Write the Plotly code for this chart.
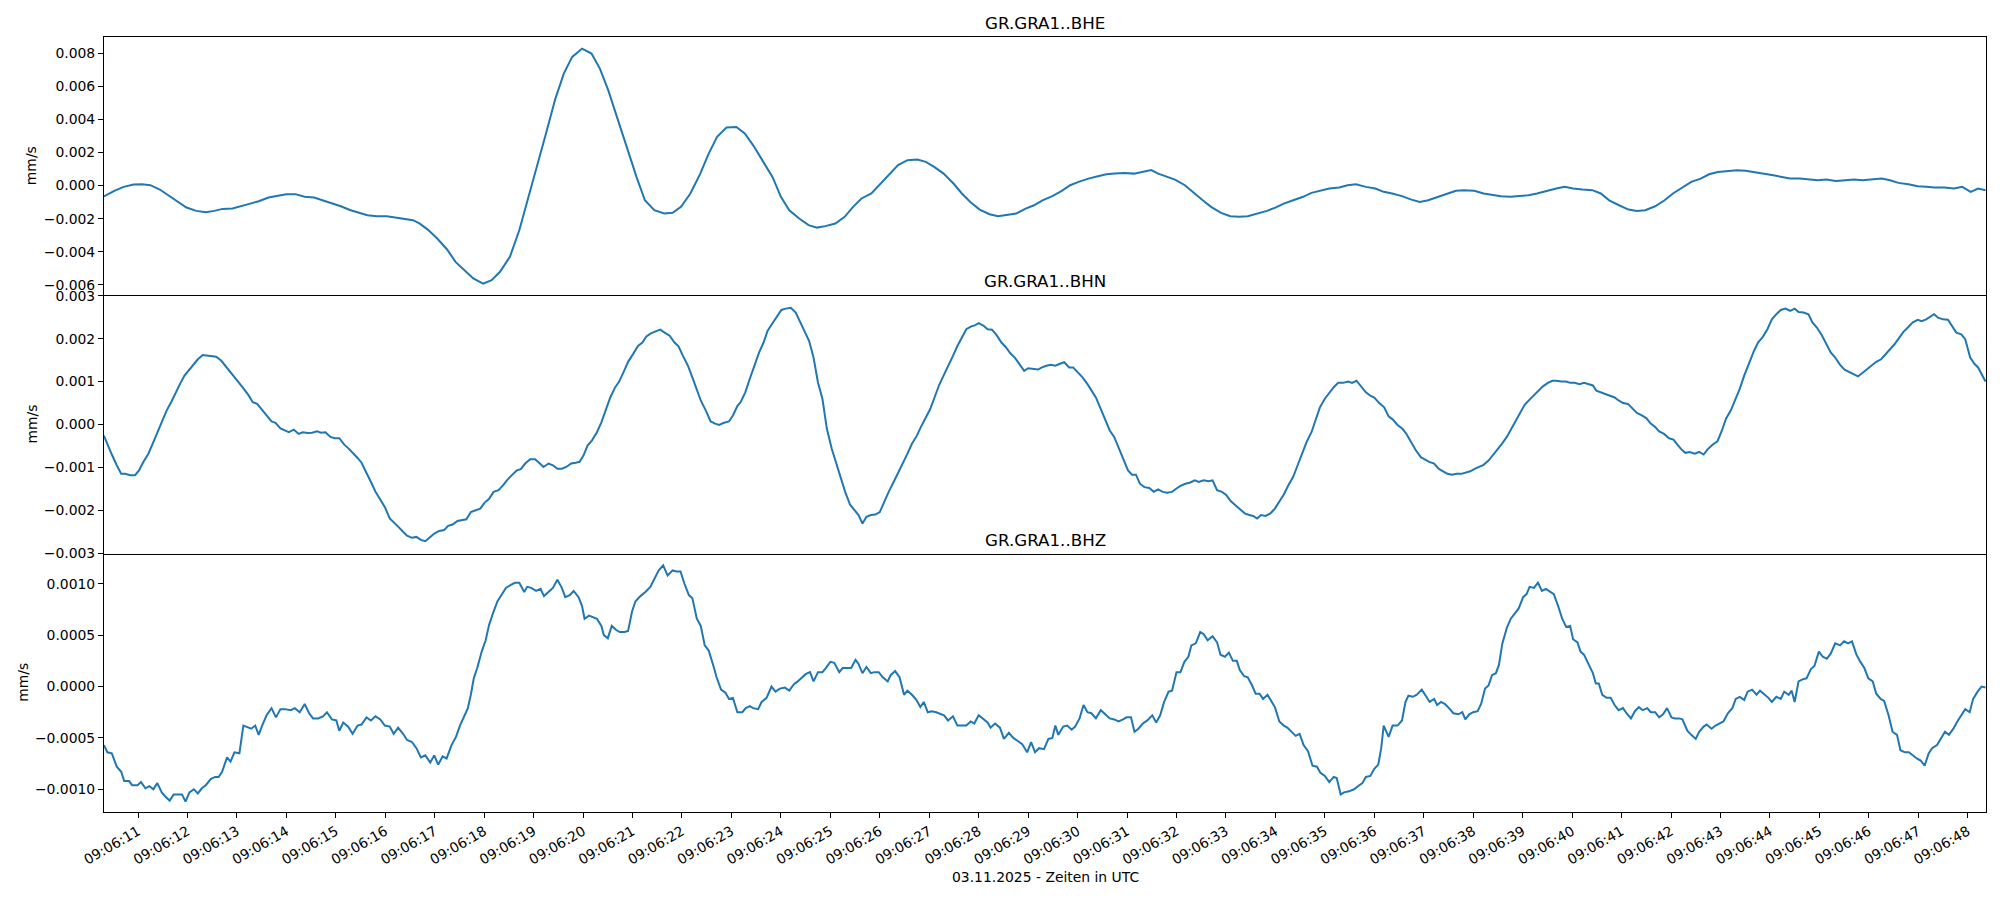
import pandas as pd
import plotly.graph_objects as go
from plotly.subplots import make_subplots

# ---------------- data (seconds after 09:06:00 UTC, velocity in µm/s) ----------------
bhe_t = [
    10.31,10.52,10.71,10.91,11.08,11.25,11.44,11.64,11.81,11.98,
    12.18,12.37,12.54,12.71,12.91,13.10,13.27,13.44,13.64,13.83,
    14.00,14.18,14.37,14.56,14.74,14.91,15.10,15.30,15.47,15.64,
    15.83,16.03,16.20,16.37,16.56,16.69,16.86,17.05,17.25,17.42,
    17.59,17.78,17.98,18.15,18.32,18.52,18.71,18.88,19.05,19.25,
    19.44,19.61,19.78,19.98,20.17,20.34,20.51,20.71,20.90,21.08,
    21.25,21.44,21.64,21.81,21.98,22.17,22.37,22.54,22.71,22.90,
    23.10,23.27,23.44,23.63,23.83,24.00,24.17,24.37,24.56,24.73,
    24.90,25.10,25.29,25.46,25.63,25.83,26.02,26.19,26.37,26.56,
    26.76,26.93,27.10,27.29,27.49,27.66,27.83,28.02,28.22,28.39,
    28.56,28.76,28.95,29.12,29.29,29.49,29.68,29.85,30.02,30.22,
    30.41,30.58,30.75,30.95,31.14,31.31,31.49,31.63,31.80,31.97,
    32.17,32.36,32.53,32.70,32.90,33.09,33.27,33.44,33.63,33.83,
    34.00,34.17,34.36,34.56,34.73,34.90,35.09,35.29,35.46,35.63,
    35.83,36.02,36.19,36.36,36.56,36.75,36.92,37.09,37.29,37.48,
    37.65,37.82,38.02,38.21,38.39,38.56,38.75,38.95,39.12,39.29,
    39.48,39.68,39.85,40.02,40.21,40.41,40.58,40.75,40.95,41.14,
    41.31,41.48,41.68,41.87,42.04,42.21,42.41,42.60,42.77,42.95,
    43.14,43.33,43.51,43.68,43.87,44.07,44.24,44.41,44.60,44.80,
    44.97,45.14,45.33,45.53,45.70,45.87,46.07,46.26,46.43,46.60,
    46.80,46.99,47.16,47.33,47.53,47.72,47.89,48.06,48.21,48.36,
]
bhe_v = [
    -0.66,-0.32,-0.08,0.06,0.08,0.02,-0.24,-0.64,-0.99,-1.33,
    -1.53,-1.61,-1.53,-1.41,-1.39,-1.25,-1.09,-0.95,-0.72,-0.62,
    -0.52,-0.52,-0.68,-0.72,-0.89,-1.09,-1.25,-1.49,-1.65,-1.79,
    -1.85,-1.85,-1.93,-1.99,-2.09,-2.29,-2.66,-3.20,-3.86,-4.61,
    -5.11,-5.61,-5.92,-5.71,-5.21,-4.31,-2.70,-0.89,0.93,3.14,
    5.25,6.76,7.77,8.27,7.97,7.06,5.75,3.94,2.13,0.52,
    -0.89,-1.49,-1.69,-1.65,-1.29,-0.48,0.72,1.93,2.94,3.50,
    3.54,3.14,2.43,1.53,0.52,-0.68,-1.49,-1.99,-2.39,-2.54,
    -2.45,-2.29,-1.89,-1.29,-0.78,-0.48,0.12,0.72,1.23,1.53,
    1.57,1.43,1.13,0.72,0.12,-0.48,-0.99,-1.45,-1.73,-1.85,
    -1.79,-1.69,-1.39,-1.19,-0.89,-0.64,-0.32,0.02,0.22,0.42,
    0.56,0.68,0.72,0.76,0.72,0.82,0.93,0.72,0.56,0.36,
    0.02,-0.48,-0.89,-1.29,-1.65,-1.85,-1.89,-1.85,-1.69,-1.53,
    -1.33,-1.09,-0.89,-0.68,-0.44,-0.32,-0.18,-0.12,0.02,0.08,
    -0.08,-0.18,-0.38,-0.48,-0.64,-0.85,-0.99,-0.89,-0.68,-0.48,
    -0.32,-0.28,-0.32,-0.48,-0.58,-0.64,-0.68,-0.64,-0.58,-0.48,
    -0.32,-0.18,-0.08,-0.18,-0.24,-0.28,-0.48,-0.89,-1.19,-1.45,
    -1.53,-1.49,-1.25,-0.89,-0.48,-0.18,0.22,0.42,0.68,0.82,
    0.89,0.93,0.89,0.82,0.72,0.62,0.52,0.42,0.42,0.36,
    0.32,0.36,0.28,0.32,0.36,0.32,0.36,0.42,0.32,0.16,
    0.08,-0.04,-0.08,-0.12,-0.12,-0.18,-0.08,-0.38,-0.18,-0.28,
]

bhn_t = [
    10.31,10.38,10.47,10.57,10.66,10.74,10.84,10.94,11.02,11.11,
    11.21,11.31,11.39,11.48,11.58,11.67,11.76,11.86,11.94,12.04,
    12.13,12.21,12.31,12.41,12.50,12.58,12.68,12.78,12.86,12.95,
    13.05,13.14,13.23,13.32,13.41,13.51,13.60,13.70,13.78,13.88,
    13.97,14.05,14.15,14.25,14.33,14.43,14.52,14.62,14.70,14.79,
    14.89,14.98,15.07,15.17,15.25,15.35,15.44,15.52,15.62,15.71,
    15.80,15.89,15.99,16.09,16.17,16.26,16.36,16.44,16.54,16.63,
    16.72,16.81,16.91,16.99,17.09,17.19,17.27,17.36,17.46,17.54,
    17.64,17.73,17.83,17.92,18.01,18.10,18.19,18.29,18.38,18.46,
    18.56,18.66,18.74,18.83,18.93,19.03,19.11,19.20,19.30,19.39,
    19.48,19.57,19.66,19.76,19.85,19.93,20.01,20.09,20.18,20.28,
    20.37,20.46,20.55,20.65,20.73,20.83,20.91,21.01,21.11,21.20,
    21.28,21.38,21.48,21.56,21.65,21.75,21.85,21.93,22.02,22.12,
    22.21,22.30,22.38,22.48,22.58,22.67,22.75,22.85,22.95,23.03,
    23.12,23.19,23.28,23.37,23.46,23.56,23.65,23.73,23.83,23.93,
    24.01,24.10,24.20,24.30,24.38,24.47,24.57,24.66,24.75,24.84,
    24.93,25.03,25.12,25.20,25.30,25.40,25.49,25.57,25.65,25.73,
    25.82,25.91,26.00,26.10,26.18,26.28,26.38,26.47,26.56,26.65,
    26.75,26.83,26.92,27.02,27.12,27.20,27.29,27.39,27.48,27.57,
    27.66,27.75,27.84,27.92,28.00,28.10,28.18,28.27,28.37,28.46,
    28.55,28.64,28.73,28.82,28.92,29.00,29.10,29.20,29.28,29.37,
    29.46,29.55,29.63,29.73,29.83,29.91,30.00,30.10,30.20,30.28,
    30.37,30.47,30.56,30.65,30.74,30.83,30.93,31.02,31.10,31.18,
    31.26,31.35,31.45,31.54,31.63,31.72,31.81,31.91,32.00,32.08,
    32.18,32.28,32.37,32.45,32.55,32.65,32.73,32.82,32.92,33.01,
    33.10,33.19,33.28,33.38,33.47,33.55,33.63,33.71,33.80,33.90,
    33.99,34.08,34.17,34.26,34.36,34.45,34.53,34.63,34.73,34.82,
    34.90,35.00,35.10,35.18,35.27,35.37,35.47,35.55,35.64,35.74,
    35.83,35.92,36.00,36.10,36.20,36.29,36.37,36.47,36.57,36.65,
    36.74,36.84,36.94,37.02,37.11,37.21,37.30,37.39,37.48,37.57,
    37.67,37.76,37.84,37.94,38.04,38.13,38.21,38.31,38.41,38.49,
    38.58,38.68,38.77,38.86,38.95,39.04,39.14,39.23,39.31,39.41,
    39.51,39.60,39.68,39.78,39.88,39.96,40.05,40.15,40.24,40.33,
    40.42,40.49,40.58,40.66,40.76,40.86,40.94,41.03,41.13,41.23,
    41.31,41.40,41.50,41.59,41.68,41.76,41.86,41.96,42.05,42.13,
    42.21,42.29,42.38,42.48,42.57,42.66,42.74,42.84,42.94,43.03,
    43.11,43.21,43.31,43.39,43.48,43.58,43.68,43.76,43.85,43.95,
    44.04,44.13,44.22,44.31,44.41,44.50,44.58,44.68,44.78,44.86,
    44.95,45.05,45.15,45.23,45.32,45.42,45.51,45.60,45.69,45.78,
    45.87,45.97,46.05,46.15,46.25,46.34,46.42,46.52,46.62,46.70,
    46.79,46.89,46.99,47.07,47.16,47.26,47.32,47.40,47.50,47.60,
    47.68,47.77,47.87,47.95,48.05,48.14,48.21,48.30,48.36,
]
bhn_v = [
    -0.26,-0.47,-0.70,-0.95,-1.15,-1.15,-1.18,-1.18,-1.07,-0.87,
    -0.68,-0.41,-0.18,0.07,0.33,0.52,0.75,0.97,1.14,1.28,
    1.41,1.52,1.62,1.60,1.59,1.58,1.49,1.35,1.22,1.12,
    0.97,0.83,0.69,0.52,0.48,0.35,0.21,0.07,0.04,-0.09,
    -0.14,-0.18,-0.12,-0.22,-0.18,-0.20,-0.19,-0.16,-0.19,-0.18,
    -0.29,-0.32,-0.32,-0.47,-0.55,-0.66,-0.78,-0.89,-1.11,-1.34,
    -1.56,-1.73,-1.92,-2.19,-2.27,-2.38,-2.50,-2.59,-2.64,-2.62,
    -2.69,-2.72,-2.62,-2.54,-2.48,-2.46,-2.36,-2.33,-2.25,-2.23,
    -2.21,-2.04,-2.00,-1.96,-1.82,-1.73,-1.57,-1.53,-1.42,-1.30,
    -1.18,-1.07,-1.04,-0.91,-0.81,-0.81,-0.89,-0.99,-0.91,-0.95,
    -1.03,-1.03,-0.99,-0.91,-0.89,-0.87,-0.72,-0.49,-0.37,-0.18,
    0.05,0.36,0.63,0.87,1.00,1.25,1.46,1.64,1.83,1.91,
    2.05,2.13,2.18,2.21,2.14,2.07,1.91,1.82,1.60,1.37,
    1.10,0.83,0.56,0.33,0.07,0.02,-0.01,0.04,0.07,0.21,
    0.43,0.53,0.75,1.06,1.37,1.68,1.91,2.18,2.36,2.53,
    2.67,2.70,2.72,2.61,2.41,2.22,1.95,1.56,0.98,0.60,
    -0.10,-0.57,-0.91,-1.22,-1.57,-1.87,-2.00,-2.11,-2.31,-2.15,
    -2.11,-2.10,-2.04,-1.76,-1.57,-1.34,-1.11,-0.91,-0.68,-0.45,
    -0.26,-0.06,0.13,0.36,0.67,0.92,1.14,1.37,1.60,1.83,
    2.03,2.22,2.28,2.31,2.36,2.30,2.22,2.21,2.07,1.91,
    1.80,1.66,1.56,1.41,1.25,1.31,1.29,1.28,1.33,1.37,
    1.39,1.37,1.41,1.45,1.33,1.33,1.22,1.10,0.94,0.79,
    0.63,0.36,0.09,-0.14,-0.29,-0.53,-0.84,-1.07,-1.17,-1.17,
    -1.38,-1.46,-1.48,-1.57,-1.51,-1.57,-1.59,-1.57,-1.49,-1.43,
    -1.38,-1.35,-1.30,-1.34,-1.30,-1.32,-1.30,-1.53,-1.57,-1.65,
    -1.79,-1.88,-1.96,-2.07,-2.11,-2.13,-2.19,-2.11,-2.13,-2.07,
    -1.96,-1.79,-1.63,-1.42,-1.22,-0.95,-0.72,-0.41,-0.18,0.13,
    0.40,0.60,0.75,0.87,0.97,0.97,1.00,0.97,1.02,0.87,
    0.75,0.67,0.63,0.50,0.40,0.19,0.12,-0.01,-0.10,-0.22,
    -0.41,-0.60,-0.76,-0.81,-0.87,-0.91,-1.03,-1.09,-1.15,-1.17,
    -1.15,-1.15,-1.12,-1.09,-1.03,-0.99,-0.94,-0.84,-0.70,-0.60,
    -0.45,-0.29,-0.10,0.09,0.29,0.46,0.58,0.69,0.79,0.89,
    0.97,1.02,1.02,1.00,1.00,0.97,0.97,0.94,0.97,0.94,
    0.91,0.79,0.75,0.71,0.67,0.63,0.56,0.50,0.48,0.36,
    0.27,0.22,0.15,0.02,-0.06,-0.16,-0.22,-0.32,-0.35,-0.47,
    -0.58,-0.66,-0.64,-0.68,-0.64,-0.70,-0.58,-0.47,-0.39,-0.14,
    0.13,0.33,0.60,0.83,1.14,1.45,1.72,1.91,2.03,2.22,
    2.45,2.57,2.67,2.70,2.65,2.70,2.62,2.61,2.57,2.38,
    2.26,2.08,1.87,1.68,1.56,1.39,1.28,1.23,1.18,1.12,
    1.20,1.29,1.37,1.46,1.52,1.64,1.74,1.87,2.03,2.16,
    2.26,2.38,2.44,2.41,2.45,2.52,2.57,2.49,2.45,2.44,
    2.30,2.14,2.10,1.99,1.56,1.41,1.33,1.14,1.00,
]

bhz_t = [
    10.31,10.38,10.47,10.57,10.66,10.72,10.82,10.88,10.99,11.06,
    11.15,11.23,11.31,11.39,11.48,11.55,11.64,11.72,11.82,11.89,
    11.96,12.04,12.13,12.21,12.29,12.37,12.47,12.56,12.63,12.70,
    12.80,12.87,12.95,13.05,13.13,13.19,13.29,13.37,13.44,13.51,
    13.60,13.70,13.79,13.88,13.97,14.09,14.17,14.27,14.37,14.46,
    14.54,14.64,14.74,14.82,14.92,15.01,15.07,15.15,15.25,15.34,
    15.44,15.52,15.62,15.71,15.80,15.90,15.99,16.09,16.17,16.26,
    16.36,16.44,16.54,16.63,16.72,16.81,16.91,16.99,17.07,17.16,
    17.24,17.34,17.43,17.51,17.58,17.67,17.73,17.79,17.86,17.95,
    18.03,18.10,18.19,18.27,18.35,18.44,18.54,18.62,18.71,18.81,
    18.87,18.95,19.05,19.14,19.21,19.30,19.39,19.48,19.57,19.64,
    19.73,19.81,19.91,19.98,20.03,20.12,20.18,20.28,20.37,20.42,
    20.50,20.58,20.67,20.74,20.84,20.91,20.99,21.06,21.16,21.26,
    21.36,21.44,21.53,21.62,21.71,21.81,21.89,21.97,22.05,22.14,
    22.21,22.30,22.38,22.46,22.54,22.63,22.70,22.79,22.88,22.95,
    23.03,23.12,23.22,23.29,23.37,23.44,23.54,23.61,23.71,23.81,
    23.89,23.98,24.08,24.17,24.26,24.34,24.42,24.50,24.59,24.66,
    24.75,24.84,24.91,25.00,25.08,25.18,25.25,25.34,25.42,25.51,
    25.57,25.65,25.73,25.82,25.89,25.98,26.06,26.16,26.22,26.31,
    26.40,26.49,26.56,26.65,26.74,26.82,26.89,26.97,27.05,27.14,
    27.23,27.30,27.38,27.48,27.57,27.65,27.75,27.84,27.91,28.00,
    28.10,28.18,28.24,28.33,28.43,28.51,28.61,28.70,28.79,28.88,
    28.98,29.06,29.14,29.22,29.32,29.41,
    29.49,29.55,29.61,29.71,29.79,29.88,29.95,30.04,30.12,30.20,
    30.28,30.37,30.47,30.55,30.65,30.74,30.83,30.92,30.99,31.08,
    31.15,31.23,31.32,31.41,31.51,31.59,31.67,31.75,31.84,31.91,
    32.00,32.08,32.16,32.24,32.30,32.39,32.48,32.55,32.63,32.73,
    32.82,32.89,32.98,33.06,33.14,33.22,33.28,33.37,33.44,33.53,
    33.60,33.68,33.75,33.84,33.92,33.99,34.08,34.17,34.24,34.33,
    34.41,34.49,34.57,34.66,34.75,34.84,34.91,35.00,35.09,35.18,
    35.24,35.32,35.39,35.49,35.59,35.67,35.76,35.83,35.92,36.00,
    36.08,36.14,36.19,36.29,36.37,36.47,36.56,36.63,36.69,36.78,
    36.86,36.96,37.05,37.12,37.21,37.27,37.35,37.43,37.51,37.60,
    37.70,37.78,37.84,37.92,38.00,38.09,38.16,38.24,38.31,38.38,
    38.46,38.52,38.59,38.68,38.76,38.86,38.92,39.01,39.08,39.14,
    39.23,39.31,39.39,39.47,39.56,39.63,39.72,39.80,39.88,39.96,
    40.02,40.11,40.17,40.24,40.33,40.42,40.48,40.54,40.61,40.70,
    40.78,40.86,40.94,41.03,41.10,41.19,41.27,41.35,41.43,41.52,
    41.59,41.68,41.76,41.84,41.92,42.01,42.08,42.17,42.23,42.33,
    42.41,42.50,42.57,42.66,42.72,42.82,42.90,42.99,43.06,43.15,
    43.24,43.31,43.39,43.48,43.55,43.64,43.73,43.80,43.88,43.97,
    44.04,44.13,44.22,44.29,44.38,44.44,44.50,44.58,44.66,44.74,
    44.83,44.90,44.99,45.07,45.15,45.23,45.32,45.42,45.50,45.58,
    45.66,45.75,45.83,45.91,45.99,46.08,46.15,46.24,46.31,46.40,
    46.48,46.57,46.64,46.73,46.81,46.89,46.97,47.05,47.13,47.21,
    47.28,47.38,47.46,47.54,47.62,47.71,47.79,47.87,47.95,48.04,
    48.11,48.20,48.28,48.36,
]
bhz_v = [
    -0.57,-0.64,-0.65,-0.78,-0.83,-0.92,-0.92,-0.96,-0.96,-0.93,
    -0.99,-0.97,-1.00,-0.94,-1.03,-1.07,-1.11,-1.05,-1.05,-1.05,
    -1.12,-1.03,-1.00,-1.04,-0.99,-0.96,-0.90,-0.88,-0.88,-0.83,
    -0.69,-0.73,-0.64,-0.65,-0.38,-0.39,-0.41,-0.38,-0.47,-0.38,
    -0.28,-0.21,-0.30,-0.22,-0.22,-0.23,-0.21,-0.25,-0.17,-0.26,
    -0.31,-0.31,-0.29,-0.25,-0.32,-0.33,-0.43,-0.35,-0.39,-0.46,
    -0.38,-0.37,-0.30,-0.33,-0.29,-0.32,-0.38,-0.39,-0.46,-0.40,
    -0.46,-0.52,-0.54,-0.60,-0.69,-0.67,-0.74,-0.67,-0.76,-0.68,
    -0.70,-0.57,-0.49,-0.38,-0.30,-0.21,-0.08,0.08,0.18,0.34,
    0.45,0.60,0.73,0.83,0.89,0.96,0.99,1.01,1.01,0.92,
    0.97,0.96,0.93,0.95,0.88,0.92,0.96,1.04,0.96,0.87,
    0.89,0.93,0.87,0.78,0.66,0.69,0.68,0.66,0.59,0.50,
    0.47,0.59,0.55,0.53,0.53,0.54,0.73,0.83,0.88,0.92,
    0.97,1.04,1.13,1.18,1.08,1.13,1.12,1.12,1.00,0.89,
    0.86,0.66,0.59,0.40,0.35,0.21,0.09,-0.03,-0.06,-0.12,
    -0.11,-0.25,-0.25,-0.21,-0.19,-0.21,-0.22,-0.15,-0.11,0.00,
    -0.05,-0.02,-0.01,-0.04,0.02,0.05,0.09,0.12,0.14,0.05,
    0.14,0.14,0.18,0.24,0.23,0.14,0.18,0.18,0.18,0.26,
    0.22,0.13,0.19,0.13,0.14,0.14,0.09,0.05,0.11,0.15,
    0.09,-0.08,-0.04,-0.08,-0.13,-0.20,-0.15,-0.25,-0.24,-0.25,
    -0.27,-0.28,-0.33,-0.29,-0.38,-0.38,-0.38,-0.34,-0.36,-0.28,
    -0.32,-0.35,-0.40,-0.36,-0.40,-0.51,-0.45,-0.50,-0.53,-0.56,
    -0.64,-0.54,-0.64,-0.60,-0.61,-0.51,
    -0.50,-0.38,-0.47,-0.39,-0.38,-0.42,-0.39,-0.31,-0.18,-0.25,
    -0.26,-0.31,-0.23,-0.27,-0.31,-0.32,-0.34,-0.32,-0.30,-0.30,
    -0.44,-0.41,-0.36,-0.33,-0.28,-0.35,-0.28,-0.15,-0.05,-0.04,
    0.14,0.14,0.24,0.29,0.40,0.42,0.53,0.51,0.45,0.49,
    0.43,0.31,0.29,0.33,0.25,0.25,0.16,0.10,0.09,0.01,
    -0.07,-0.07,-0.12,-0.08,-0.14,-0.20,-0.34,-0.38,-0.40,-0.44,
    -0.48,-0.46,-0.57,-0.63,-0.77,-0.78,-0.84,-0.87,-0.93,-0.88,
    -0.89,-1.05,-1.03,-1.02,-1.00,-0.97,-0.94,-0.88,-0.87,-0.80,
    -0.76,-0.60,-0.38,-0.49,-0.38,-0.38,-0.33,-0.15,-0.09,-0.10,
    -0.08,-0.03,-0.10,-0.15,-0.12,-0.18,-0.15,-0.17,-0.21,-0.26,
    -0.27,-0.25,-0.32,-0.27,-0.25,-0.24,-0.17,-0.02,0.01,0.11,
    0.13,0.21,0.42,0.57,0.66,0.73,0.76,0.87,0.90,0.97,
    0.96,1.01,0.93,0.95,0.92,0.90,0.78,0.66,0.58,0.59,
    0.46,0.43,0.34,0.31,0.22,0.13,0.03,0.03,-0.08,-0.11,
    -0.11,-0.18,-0.23,-0.21,-0.26,-0.31,-0.24,-0.20,-0.23,-0.21,
    -0.25,-0.25,-0.30,-0.27,-0.21,-0.30,-0.31,-0.31,-0.32,-0.43,
    -0.47,-0.51,-0.44,-0.39,-0.37,-0.41,-0.38,-0.36,-0.34,-0.26,
    -0.21,-0.12,-0.10,-0.13,-0.05,-0.03,-0.08,-0.04,-0.07,-0.11,
    -0.15,-0.10,-0.12,-0.05,-0.08,-0.04,-0.15,0.05,0.07,0.08,
    0.17,0.20,0.34,0.29,0.27,0.32,0.42,0.40,0.44,0.42,
    0.44,0.31,0.24,0.18,0.08,0.05,-0.07,-0.12,-0.14,-0.28,
    -0.44,-0.47,-0.62,-0.64,-0.64,-0.67,-0.70,-0.72,-0.77,-0.65,
    -0.60,-0.57,-0.51,-0.44,-0.47,-0.41,-0.34,-0.28,-0.22,-0.25,
    -0.12,-0.05,0.00,-0.01,
]

channels = ["GR.GRA1..BHE", "GR.GRA1..BHN", "GR.GRA1..BHZ"]
y_ranges = [[-0.00663, 0.00897], [-0.00301, 0.00301], [-0.001221, 0.001293]]
y_dticks = [0.002, 0.001, 0.0005]
y_formats = [".3f", ".3f", ".4f"]
x_window = [10.312, 48.37]
date_str = "2025-11-03"
x_title = "03.11.2025 - Zeiten in UTC"
unit = "mm/s"

assert len(bhe_t) == len(bhe_v)
assert len(bhn_t) == len(bhn_v)
assert len(bhz_t) == len(bhz_v)

base = pd.Timestamp(f"{date_str} 09:06:00")


def to_time(secs):
    return base + pd.to_timedelta(pd.Series(secs, dtype=float), unit="s")


def to_mm(vals):
    return [v / 1000.0 for v in vals]  # µm/s -> mm/s


series = [(bhe_t, bhe_v), (bhn_t, bhn_v), (bhz_t, bhz_v)]

fig = make_subplots(rows=3, cols=1, shared_xaxes=True, vertical_spacing=0)

for i, (t, v) in enumerate(series, start=1):
    fig.add_trace(
        go.Scatter(x=to_time(t), y=to_mm(v), mode="lines",
                   line=dict(color="#1f77b4", width=2.0), showlegend=False,
                   hoverinfo="skip"),
        row=i, col=1)

tick_font = dict(family="DejaVu Sans", size=13.9, color="black")
axis_common = dict(showline=True, linecolor="black", linewidth=1.1,
                   showgrid=False, zeroline=False, tickfont=tick_font,
                   tickcolor="black", tickwidth=1.1, ticklen=5)

xr = list(to_time(x_window))
for i in range(1, 4):
    bottom = (i == 3)
    fig.update_xaxes(row=i, col=1, type="date", range=xr,
                     tick0=f"{date_str} 09:06:00", dtick=1000,
                     tickformat="%H:%M:%S",
                     ticks="outside" if bottom else "",
                     showticklabels=bottom, tickangle=-30,
                     mirror=(i == 1),
                     **axis_common)
    fig.update_yaxes(row=i, col=1, range=y_ranges[i - 1], dtick=y_dticks[i - 1],
                     tick0=0, tickformat=y_formats[i - 1], ticks="outside",
                     mirror=True, **axis_common)

annotations = []
panel_tops = [1.0, 2 / 3, 1 / 3]
panel_mids = [5 / 6, 1 / 2, 1 / 6]
ylabel_shift = [-73, -73, -81]
for k in range(3):
    annotations.append(dict(text=channels[k], xref="paper", yref="paper",
                            x=0.5, y=panel_tops[k], xanchor="center", yanchor="middle",
                            yshift=14, showarrow=False,
                            font=dict(family="DejaVu Sans", size=16.7, color="black")))
    annotations.append(dict(text=unit, xref="paper", yref="paper",
                            x=0, y=panel_mids[k], xanchor="center", yanchor="middle",
                            xshift=ylabel_shift[k], textangle=-90, showarrow=False,
                            font=dict(family="DejaVu Sans", size=13.9, color="black")))
annotations.append(dict(text=x_title, xref="paper", yref="paper", x=0.5, y=0,
                        xanchor="center", yanchor="middle", yshift=-65, showarrow=False,
                        font=dict(family="DejaVu Sans", size=13.9, color="black")))

fig.update_layout(width=2000, height=900,
                  margin=dict(l=104, r=14, t=37, b=88, pad=0),
                  paper_bgcolor="white", plot_bgcolor="white",
                  annotations=annotations,
                  font=dict(family="DejaVu Sans", color="black"))

fig.write_html("out.html", config={"displayModeBar": False},
               post_script="document.body.style.margin='0';")
